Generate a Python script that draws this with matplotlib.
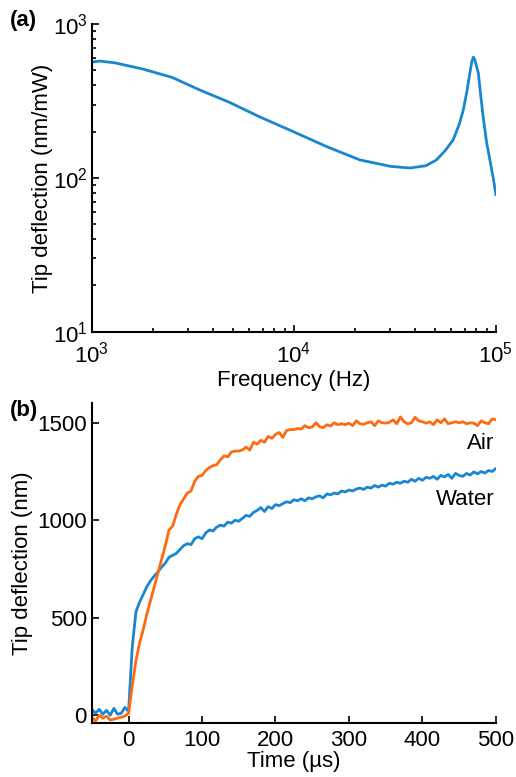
import numpy as np
import matplotlib.pyplot as plt

plt.rcParams['font.family'] = ['Liberation Sans', 'DejaVu Sans']
plt.rcParams['mathtext.fontset'] = 'custom'
plt.rcParams['mathtext.rm'] = 'Liberation Sans'
plt.rcParams['mathtext.it'] = 'Liberation Sans'
plt.rcParams['font.size'] = 16

# (a) frequency response
freq = [1000, 1095, 1300, 1790, 2500, 3420, 4800, 6790, 9930, 14500, 21200,
        30000, 37500, 45000, 50800, 56000, 61500, 66000, 69000, 72000, 74300,
        76000, 77300, 78500, 80000, 81900, 84000, 86500, 90000, 93400, 97000, 100000]
resp = [566, 575, 560, 510, 450, 373, 310, 249, 200, 160, 131,
        119, 116, 120, 131, 150, 177, 225, 277, 370, 479,
        570, 610, 590, 540, 479, 350, 250, 170, 131, 100, 78]

# (b) step response
t = list(range(-50, 501, 5))
air = [-10, -30, 0, -15, -5, -25, -20, -15, -10, -5, 10, 150, 280, 370, 440, 520,
       590, 660, 730, 800, 870, 950, 970, 1030, 1080, 1110, 1140, 1150, 1200, 1225,
       1230, 1255, 1270, 1280, 1285, 1310, 1330, 1325, 1350, 1355, 1355, 1360, 1375,
       1360, 1400, 1390, 1410, 1400, 1430, 1420, 1440, 1450, 1425, 1460, 1465, 1465,
       1470, 1468, 1485, 1475, 1478, 1500, 1480, 1475, 1490, 1483, 1500, 1490, 1495,
       1490, 1498, 1485, 1510, 1495, 1492, 1500, 1505, 1485, 1510, 1500, 1498, 1502,
       1515, 1495, 1530, 1505, 1495, 1500, 1528, 1510, 1505, 1498, 1505, 1490, 1515,
       1500, 1520, 1495, 1500, 1505, 1500, 1505, 1495, 1500, 1498, 1485, 1510, 1500,
       1495, 1520, 1515]
water = [30, 10, 30, 5, 25, 0, 35, 5, 10, 40, 20, 350, 530, 580, 620, 660, 690, 715,
         735, 760, 780, 810, 820, 830, 850, 870, 880, 875, 905, 915, 905, 935, 950,
         945, 965, 975, 970, 990, 985, 1000, 995, 1010, 1025, 1020, 1040, 1050, 1065,
         1045, 1070, 1060, 1080, 1075, 1085, 1095, 1090, 1105, 1100, 1110, 1100, 1115,
         1110, 1120, 1125, 1115, 1135, 1130, 1140, 1135, 1150, 1145, 1155, 1150, 1160,
         1165, 1158, 1170, 1165, 1178, 1170, 1180, 1175, 1190, 1185, 1195, 1190, 1200,
         1195, 1210, 1200, 1215, 1205, 1220, 1215, 1225, 1210, 1230, 1222, 1235, 1215,
         1240, 1230, 1225, 1240, 1232, 1248, 1238, 1250, 1242, 1255, 1250, 1265]

blue = '#1a86d0'
orange = '#ff6a10'

fig = plt.figure(figsize=(5.16, 7.77), dpi=100)

ax1 = fig.add_axes([0.178, 0.573, 0.783, 0.396])
ax1.loglog(freq, resp, color=blue, linewidth=2)
ax1.set_xlim(1e3, 1e5)
ax1.set_ylim(1e1, 1e3)
ax1.set_xlabel('Frequency (Hz)', labelpad=2)
ax1.set_ylabel('Tip deflection (nm/mW)', labelpad=0)

ax2 = fig.add_axes([0.178, 0.0695, 0.783, 0.4115])
ax2.plot(t, water, color=blue, linewidth=2)
ax2.plot(t, air, color=orange, linewidth=2)
ax2.set_xlim(-50, 500)
ax2.set_ylim(-40, 1600)
ax2.set_xticks([0, 100, 200, 300, 400, 500])
ax2.set_yticks([0, 500, 1000, 1500])
ax2.set_xlabel('Time (\u00b5s)', labelpad=0)
ax2.set_ylabel('Tip deflection (nm)', labelpad=3)
ax2.text(498, 1395, 'Air', ha='right', va='center', fontsize=16)
ax2.text(498, 1105, 'Water', ha='right', va='center', fontsize=16)

for ax in (ax1, ax2):
    ax.spines['top'].set_visible(False)
    ax.spines['right'].set_visible(False)
    ax.spines['left'].set_linewidth(1.5)
    ax.spines['bottom'].set_linewidth(1.5)
    ax.tick_params(which='both', direction='in', width=1.2, labelsize=16)
    ax.tick_params(which='major', length=5)
    ax.tick_params(which='minor', length=3)
ax1.tick_params(axis='x', which='major', pad=7)
ax1.tick_params(axis='y', which='major', pad=3)
ax2.tick_params(axis='x', which='major', pad=5)

fig.text(0.02, 0.974, '(a)', fontsize=16, fontweight='bold', va='center')
fig.text(0.02, 0.472, '(b)', fontsize=16, fontweight='bold', va='center')

fig.savefig('out.png', dpi=100)
